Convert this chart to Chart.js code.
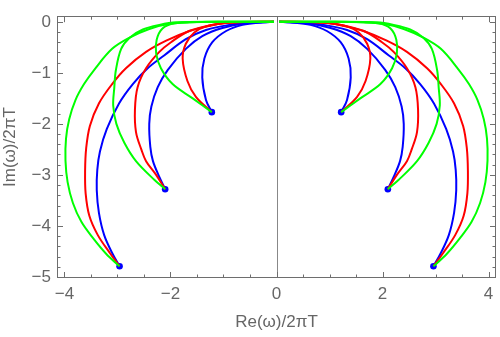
<!DOCTYPE html>
<html>
<head>
<meta charset="utf-8">
<script src="https://cdn.jsdelivr.net/npm/chart.js@4.4.1/dist/chart.umd.min.js"></script>
<style>
  html, body { margin: 0; padding: 0; background: #fff; }
  #wrap { width: 500px; height: 337px; }
</style>
</head>
<body>
<div id="wrap"><canvas id="qnm"></canvas></div>
<script>
// Left branch of each trajectory (Re<0), from the end dot up to the origin.
// The right branch is the mirror image.
const greenA = [[-1.22,-1.77],[-1.58,-1.50],[-1.96,-1.22],[-2.18,-0.91],[-2.27,-0.62],[-2.26,-0.35],[-2.15,-0.13],[-1.92,-0.03],[-1.5,-0.005],[-1.0,0],[-0.05,0]];
const redA   = [[-1.22,-1.77],[-1.52,-1.47],[-1.68,-1.16],[-1.77,-0.72],[-1.71,-0.43],[-1.55,-0.21],[-1.33,-0.09],[-1.02,-0.03],[-0.6,-0.005],[-0.05,0]];
const blueA  = [[-1.22,-1.77],[-1.33,-1.53],[-1.40,-1.09],[-1.36,-0.72],[-1.21,-0.40],[-0.95,-0.18],[-0.64,-0.06],[-0.26,-0.01],[-0.05,0]];

const greenB = [[-2.10,-3.28],[-2.30,-3.10],[-2.65,-2.73],[-2.87,-2.37],[-3.02,-2.00],[-3.08,-1.64],[-3.06,-1.30],[-3.03,-0.95],[-2.93,-0.53],[-2.77,-0.31],[-2.52,-0.15],[-2.21,-0.06],[-1.89,-0.01],[-1.0,0],[-0.05,0]];
const redB   = [[-2.10,-3.28],[-2.27,-3.00],[-2.46,-2.73],[-2.55,-2.50],[-2.65,-2.16],[-2.67,-1.72],[-2.62,-1.28],[-2.46,-0.91],[-2.21,-0.59],[-1.99,-0.40],[-1.65,-0.18],[-1.21,-0.06],[-0.8,-0.01],[-0.05,0]];
const blueB  = [[-2.10,-3.28],[-2.21,-3.04],[-2.33,-2.73],[-2.38,-2.45],[-2.40,-2.00],[-2.36,-1.66],[-2.24,-1.28],[-2.05,-0.94],[-1.71,-0.53],[-1.40,-0.28],[-1.02,-0.12],[-0.58,-0.03],[-0.05,0]];

const greenC = [[-2.96,-4.79],[-3.21,-4.55],[-3.46,-4.24],[-3.68,-3.92],[-3.84,-3.55],[-3.94,-3.14],[-3.98,-2.72],[-3.97,-2.29],[-3.91,-1.91],[-3.79,-1.53],[-3.63,-1.22],[-3.43,-0.93],[-3.10,-0.53],[-2.77,-0.31],[-2.40,-0.14],[-2.02,-0.04],[-1.64,-0.01],[-1.0,0],[-0.05,0]];
const redC   = [[-2.96,-4.79],[-3.15,-4.52],[-3.37,-4.18],[-3.53,-3.80],[-3.60,-3.36],[-3.61,-2.92],[-3.59,-2.48],[-3.52,-2.04],[-3.35,-1.60],[-3.10,-1.22],[-2.84,-0.91],[-2.46,-0.59],[-2.08,-0.37],[-1.64,-0.18],[-1.26,-0.08],[-1.01,-0.03],[-0.6,-0.005],[-0.05,0]];
const blueC  = [[-2.96,-4.79],[-3.09,-4.55],[-3.25,-4.18],[-3.35,-3.74],[-3.39,-3.30],[-3.38,-2.90],[-3.33,-2.54],[-3.20,-2.10],[-2.97,-1.60],[-2.71,-1.22],[-2.43,-0.91],[-2.12,-0.66],[-1.71,-0.34],[-1.33,-0.16],[-0.89,-0.06],[-0.4,-0.01],[-0.05,0]];

// end points (blue dots)
const dotsRe = [-1.22, -2.10, -2.96];
const dotsIm = [-1.77, -3.28, -4.79];

const xTicks = [-4, -2, 0, 2, 4];
const yTicks = [0, -1, -2, -3, -4, -5];

const GREEN = '#00ff00';
const RED = '#ff0000';
const BLUE = '#0000ff';

function toPoints(arr, side) {
    return arr.map(p => ({ x: side * p[0], y: p[1] }));
}

function curve(arr, color, side) {
    return {
        data: toPoints(arr, side),
        showLine: true,
        borderColor: color,
        borderWidth: 2,
        pointRadius: 0,
        tension: 0.35,
        fill: false
    };
}

const datasets = [];
[[greenA, greenB, greenC, GREEN], [redA, redB, redC, RED], [blueA, blueB, blueC, BLUE]].forEach(group => {
    const color = group[3];
    for (let i = 0; i < 3; i++) {
        datasets.push(curve(group[i], color, 1));
        datasets.push(curve(group[i], color, -1));
    }
});

const dotPoints = [];
dotsRe.forEach((re, i) => {
    dotPoints.push({ x: re, y: dotsIm[i] });
    dotPoints.push({ x: -re, y: dotsIm[i] });
});
datasets.push({
    data: dotPoints,
    showLine: false,
    pointRadius: 3.3,
    pointBackgroundColor: BLUE,
    pointBorderWidth: 0
});

// Mathematica style frame: box, inward ticks on all sides, vertical axis at Re=0
const framePlugin = {
    id: 'frame',
    beforeDatasetsDraw(chart) {
        const { ctx, chartArea: a, scales } = chart;
        const sx = scales.x;
        ctx.save();
        ctx.strokeStyle = '#888';
        ctx.lineWidth = 1;
        const x0 = Math.round(sx.getPixelForValue(0)) + 0.5;
        ctx.beginPath();
        ctx.moveTo(x0, a.top);
        ctx.lineTo(x0, a.bottom);
        ctx.stroke();
        ctx.restore();
    },
    afterDatasetsDraw(chart) {
        const { ctx, chartArea: a, scales } = chart;
        const sx = scales.x, sy = scales.y;
        ctx.save();
        ctx.strokeStyle = '#6e6e6e';
        ctx.lineWidth = 1;
        ctx.strokeRect(Math.round(a.left) + 0.5, Math.round(a.top) + 0.5,
                       Math.round(a.right - a.left) - 1, Math.round(a.bottom - a.top) - 1);
        ctx.beginPath();
        for (let v = -4; v <= 4.001; v += 0.5) {
            const major = Math.abs(v / 2 - Math.round(v / 2)) < 1e-6;
            const len = major ? 6 : 3.5;
            const px = Math.round(sx.getPixelForValue(v)) + 0.5;
            ctx.moveTo(px, a.bottom); ctx.lineTo(px, a.bottom - len);
            ctx.moveTo(px, a.top); ctx.lineTo(px, a.top + len);
        }
        for (let v = 0; v >= -5.001; v -= 0.2) {
            const major = Math.abs(v - Math.round(v)) < 1e-6;
            const len = major ? 6 : 3.5;
            const py = Math.round(sy.getPixelForValue(v)) + 0.5;
            ctx.moveTo(a.left, py); ctx.lineTo(a.left + len, py);
            ctx.moveTo(a.right, py); ctx.lineTo(a.right - len, py);
        }
        ctx.stroke();
        ctx.restore();
    }
};

const labelFont = { family: '"Liberation Sans", Arial, sans-serif', size: 17 };
const minus = v => (v < 0 ? '\u2212' + Math.abs(v) : String(v));

new Chart(document.getElementById('qnm'), {
    type: 'scatter',
    data: { datasets },
    plugins: [framePlugin],
    options: {
        responsive: true,
        maintainAspectRatio: false,
        animation: false,
        events: [],
        layout: { padding: { top: 6, right: 2, left: 0, bottom: 0 } },
        plugins: {
            legend: { display: false },
            tooltip: { enabled: false }
        },
        scales: {
            x: {
                type: 'linear',
                min: -4.14,
                max: 4.14,
                afterBuildTicks: s => { s.ticks = xTicks.map(v => ({ value: v })); },
                afterFit: s => { s.height = 59; },
                grid: { display: false, drawTicks: false },
                border: { display: false },
                ticks: { color: '#666', font: labelFont, padding: 6, maxRotation: 0, callback: v => minus(v) },
                title: { display: true, text: 'Re(\u03c9)/2\u03c0T', color: '#666', font: labelFont, padding: { top: 4, bottom: 4 } }
            },
            y: {
                type: 'linear',
                min: -5.02,
                max: 0.11,
                afterBuildTicks: s => { s.ticks = yTicks.map(v => ({ value: v })); },
                afterFit: s => { s.width = 57; },
                grid: { display: false, drawTicks: false },
                border: { display: false },
                ticks: { color: '#666', font: labelFont, padding: 6, callback: v => minus(v) },
                title: { display: true, text: 'Im(\u03c9)/2\u03c0T', color: '#666', font: labelFont, padding: { top: 0, bottom: 2 } }
            }
        }
    }
});
</script>
</body>
</html>
